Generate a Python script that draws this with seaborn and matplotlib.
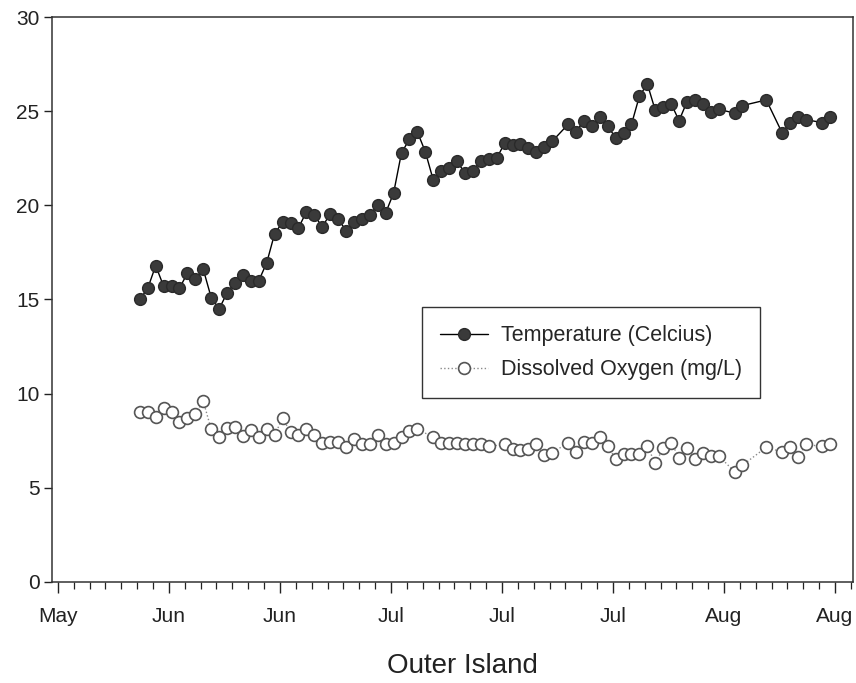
import pandas as pd
import matplotlib
matplotlib.use("Agg")
import matplotlib.pyplot as plt
import seaborn as sns

# -----------------------------
# Data
# -----------------------------
start = pd.Timestamp("2005-05-30 08:00")

temp_days = [0, 1, 2, 3, 4, 5, 6, 7, 8, 9, 10, 11, 12, 13, 14, 15, 16, 17, 18, 19,
             20, 21, 22, 23, 24, 25, 26, 27, 28, 29, 30, 31, 32, 33, 34, 35, 36, 37, 38, 39,
             40, 41, 42, 43, 44, 45, 46, 47, 48, 49, 50, 51, 52, 54, 55, 56, 57, 58, 59, 60,
             61, 62, 63, 64, 65, 66, 67, 68, 69, 70, 71, 72, 73, 75, 76, 79, 81, 82, 83, 84,
             86, 87]
temp_values = [15.0, 15.6, 16.8, 15.7, 15.7, 15.6, 16.4, 16.1, 16.6, 15.1, 14.5, 15.35, 15.9, 16.3, 16.0, 16.0, 16.95, 18.5, 19.1, 19.05,
               18.8, 19.65, 19.5, 18.85, 19.55, 19.3, 18.65, 19.1, 19.3, 19.5, 20.0, 19.6, 20.65, 22.8, 23.5, 23.9, 22.85, 21.35, 21.85, 22.0,
               22.35, 21.7, 21.85, 22.35, 22.45, 22.5, 23.3, 23.2, 23.25, 23.05, 22.85, 23.1, 23.4, 24.3, 23.9, 24.5, 24.2, 24.7, 24.2, 23.6,
               23.85, 24.3, 25.8, 26.45, 25.05, 25.25, 25.4, 24.5, 25.5, 25.6, 25.4, 24.95, 25.1, 24.9, 25.3, 25.6, 23.85, 24.4, 24.7, 24.55,
               24.4, 24.7]

do_days = [0, 1, 2, 3, 4, 5, 6, 7, 8, 9, 10, 11, 12, 13, 14, 15, 16, 17, 18, 19,
           20, 21, 22, 23, 24, 25, 26, 27, 28, 29, 30, 31, 32, 33, 34, 35, 37, 38, 39, 40,
           41, 42, 43, 44, 46, 47, 48, 49, 50, 51, 52, 54, 55, 56, 57, 58, 59, 60, 61, 62,
           63, 64, 65, 66, 67, 68, 69, 70, 71, 72, 73, 75, 76, 79, 81, 82, 83, 84, 86, 87]
do_values = [9.05, 9.05, 8.75, 9.25, 9.05, 8.5, 8.7, 8.9, 9.6, 8.1, 7.7, 8.2, 8.25, 7.75, 8.05, 7.7, 8.1, 7.8, 8.7, 7.95,
             7.8, 8.1, 7.8, 7.4, 7.45, 7.45, 7.15, 7.6, 7.35, 7.35, 7.8, 7.35, 7.4, 7.7, 8.0, 8.1, 7.7, 7.4, 7.4, 7.4,
             7.3, 7.35, 7.3, 7.2, 7.3, 7.05, 7.0, 7.05, 7.3, 6.75, 6.85, 7.4, 6.9, 7.45, 7.4, 7.7, 7.2, 6.55, 6.8, 6.8,
             6.8, 7.2, 6.3, 7.1, 7.4, 6.6, 7.1, 6.55, 6.85, 6.7, 6.7, 5.85, 6.2, 7.15, 6.9, 7.15, 6.65, 7.3, 7.2, 7.3]

tick_dates = pd.date_range("2005-05-20", periods=8, freq="14D")
tick_labels = ["May", "Jun", "Jun", "Jul", "Jul", "Jul", "Aug", "Aug"]

temp_df = pd.DataFrame({"date": start + pd.to_timedelta(temp_days, unit="D"), "value": temp_values})
do_df = pd.DataFrame({"date": start + pd.to_timedelta(do_days, unit="D"), "value": do_values})

# -----------------------------
# Plot
# -----------------------------
sns.set_style("ticks")
plt.rcParams["font.family"] = ["Liberation Sans", "DejaVu Sans"]

fig = plt.figure(figsize=(8.56, 6.83), dpi=100)
ax = fig.add_axes([0.0607, 0.148, 0.9358, 0.827])

sns.lineplot(data=temp_df, x="date", y="value", ax=ax, color="black", linewidth=1.0,
             marker="o", markersize=8.5, markerfacecolor="#3a3a3a", markeredgecolor="#2a2a2a",
             markeredgewidth=1.0, label="Temperature (Celcius)")
sns.lineplot(data=do_df, x="date", y="value", ax=ax, color="#8a8a8a", linewidth=1.0,
             linestyle=":", marker="o", markersize=8.5, markerfacecolor="white",
             markeredgecolor="#555555", markeredgewidth=1.2, label="Dissolved Oxygen (mg/L)")

ax.set_ylim(0, 30)
ax.set_yticks([0, 5, 10, 15, 20, 25, 30])
ax.set_xlim(pd.Timestamp("2005-05-19 06:00"), pd.Timestamp("2005-08-28 06:30"))
ax.set_xticks(tick_dates)
ax.set_xticklabels(tick_labels)
ax.set_xticks(pd.date_range("2005-05-20", "2005-08-28", freq="2D"), minor=True)

ax.tick_params(axis="both", which="major", labelsize=15, colors="#222222", direction="out")
ax.tick_params(axis="x", which="major", length=8, width=1.0, pad=10)
ax.tick_params(axis="x", which="minor", length=5, width=0.9, color="#222222")
ax.tick_params(axis="y", which="major", length=6, width=1.0, pad=3)

for side in ["left", "bottom", "top", "right"]:
    ax.spines[side].set_color("#333333")
    ax.spines[side].set_linewidth(1.1)

ax.set_ylabel("")
ax.set_xlabel("Outer Island", fontsize=20, color="#222222")
ax.xaxis.set_label_coords(0.512, -0.125)

leg = ax.legend(loc="upper left", bbox_to_anchor=(0.462, 0.487), borderaxespad=0,
                fontsize=15.5, frameon=True, fancybox=False, edgecolor="#333333",
                framealpha=1, handlelength=2.2, borderpad=0.85, labelspacing=0.6,
                handletextpad=0.6)
leg.get_frame().set_linewidth(1.0)

plt.savefig("out.png", dpi=100)
plt.close()
